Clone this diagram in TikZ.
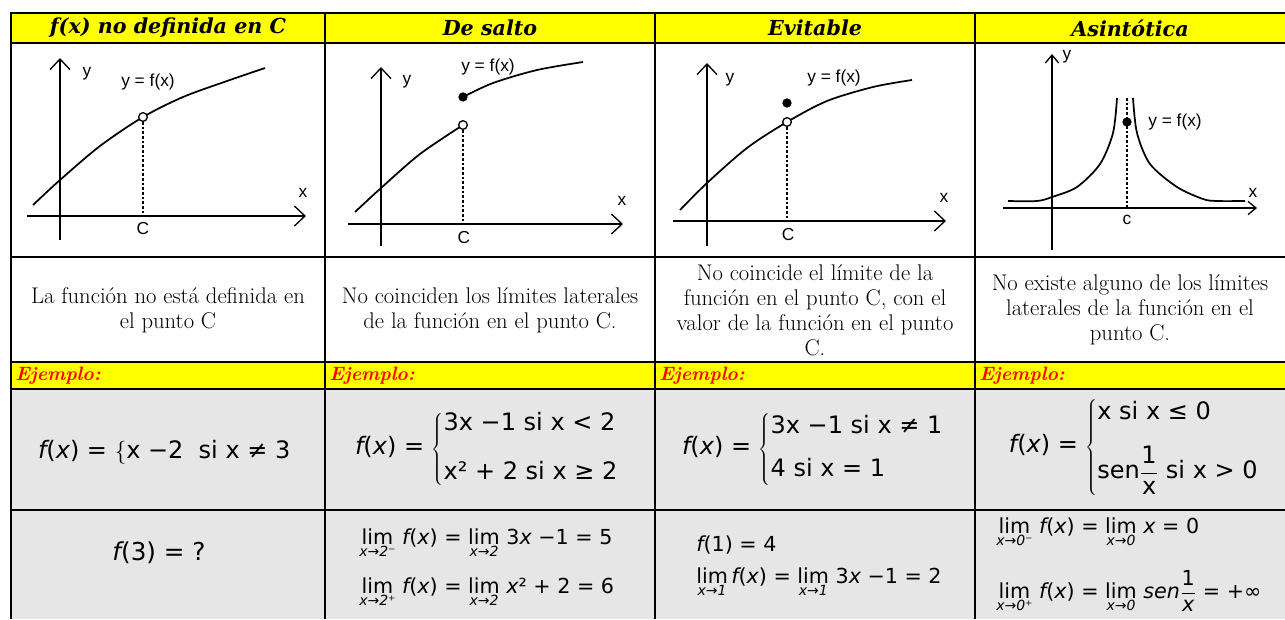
\documentclass[tikz,border=0pt]{standalone}
\usepackage{fontspec}
\usetikzlibrary{arrows.meta}
\newfontfamily\fm{DejaVu Sans}
\newfontfamily\hd{DejaVu Serif}
\newfontfamily\lab{Liberation Sans}
\definecolor{ylw}{RGB}{255,255,0}
\definecolor{gry}{RGB}{230,230,230}
\newcommand{\Lim}[1]{\ensuremath{\mathop{\mbox{lim}}\limits_{\mbox{\fontsize{10.5}{11}\selectfont\itshape #1}}}}
\newcommand{\fr}[2]{\ensuremath{\displaystyle\frac{\mbox{#1}}{\mbox{#2}}}}
\tikzset{
  tbl/.style={line width=1.6pt},
  hdr/.style={inner sep=0pt, font=\hd\bfseries\itshape\fontsize{15.5}{17}\selectfont},
  ej/.style={inner sep=0pt, anchor=west, text=red, font=\bfseries\itshape\fontsize{14.5}{16}\selectfont},
  desc/.style={inner sep=0pt, align=center, font=\fontsize{17}{18.75}\selectfont},
  fml/.style={inner sep=0pt, font=\fm\fontsize{18}{22}\selectfont},
  fml2/.style={inner sep=0pt, font=\fm\fontsize{18.5}{22}\selectfont},
  lmt/.style={inner sep=0pt, anchor=base west, font=\fm\fontsize{15.5}{18}\selectfont},
  gl/.style={inner sep=0pt, font=\lab\fontsize{13}{14}\selectfont},
  ax/.style={line width=0.9pt, -{Straight Barb[length=8pt,width=15pt,line width=1pt]}},
  axs/.style={line width=0.9pt, -{Straight Barb[length=6pt,width=10pt,line width=1pt]}},
  crv/.style={line width=1.3pt},
  dsh/.style={line width=1pt, dash pattern=on 2pt off 1.5pt},
  odot/.style={circle, draw, fill=white, inner sep=0pt, minimum size=6.5pt, line width=1pt},
  fdot/.style={circle, fill=black, inner sep=0pt, minimum size=7pt},
}
\begin{document}
\begin{tikzpicture}[x=0.75pt,y=-0.75pt]
\useasboundingbox (0,0) rectangle (1285,619);
% backgrounds
\fill[ylw] (11,13) rectangle (1285,43);
\fill[ylw] (11,362) rectangle (1285,389);
\fill[gry] (11,389) rectangle (1285,619);
% grid
\foreach \yy in {13,43,257,362,389,510} \draw[tbl] (10.2,\yy) -- (1285,\yy);
\foreach \xx in {11,325,655,975} \draw[tbl] (\xx,12.2) -- (\xx,619);
% headers
\node[hdr] (h1) at (168,28) {f(x) no definida en C};
\node[hdr] (h2) at (490,28) {De salto};
\node[hdr] (h3) at (815,28) {Evitable};
\node[hdr] (h4) at (1130,28) {Asintótica};
% ---------- graph 1
\coordinate (y1b) at (60,240); \coordinate (y1t) at (60,58);
\coordinate (x1l) at (27,216); \coordinate (x1r) at (306,216);
\draw[ax] (y1b) -- (y1t);
\draw[ax] (x1l) -- (x1r);
\draw[crv] plot[smooth] coordinates {(33,205) (60,180) (100,146) (143,117) (183,97) (227,81) (265,68)};
\node[odot] (o1) at (143,117) {};
\coordinate (c1) at (143,216);
\draw[dsh] (o1.south) -- (c1);
\node[gl] (ly1) at (87,74) {y};
\node[gl] (lx1) at (303,193) {x};
\node[gl] (lc1) at (143,229) {C};
\node[gl] (lf1) at (148,82) {y = f(x)};
% ---------- graph 2
\coordinate (y2b) at (381,246); \coordinate (y2t) at (381,67);
\coordinate (x2l) at (348,224); \coordinate (x2r) at (623,224);
\draw[ax] (y2b) -- (y2t);
\draw[ax] (x2l) -- (x2r);
\draw[crv] plot[smooth] coordinates {(355,212) (381,188) (420,154) (463,125)};
\draw[crv] plot[smooth] coordinates {(463,97) (493,83) (537,70) (583,62)};
\node[odot] (o2) at (463,125) {};
\node[fdot] (p2) at (463,97) {};
\coordinate (c2) at (463,224);
\draw[dsh] (o2.south) -- (c2);
\node[gl] (ly2) at (407,82) {y};
\node[gl] (lx2) at (622,201) {x};
\node[gl] (lc2) at (464,238) {C};
\node[gl] (lf2) at (488,67) {y = f(x)};
% ---------- graph 3
\coordinate (y3b) at (707,246); \coordinate (y3t) at (707,63);
\coordinate (x3l) at (673,221); \coordinate (x3r) at (946,221);
\draw[ax] (y3b) -- (y3t);
\draw[ax] (x3l) -- (x3r);
\draw[crv] plot[smooth] coordinates {(680,210) (707,183) (747,148) (787,122) (827,101) (873,87) (912,80)};
\node[odot] (o3) at (787,122) {};
\node[fdot] (p3) at (787,103) {};
\coordinate (c3) at (787,221);
\draw[dsh] (o3.south) -- (c3);
\node[gl] (ly3) at (730,80) {y};
\node[gl] (lx3) at (944,198) {x};
\node[gl] (lc3) at (788,235) {C};
\node[gl] (lf3) at (834,78) {y = f(x)};
% ---------- graph 4
\coordinate (y4b) at (1052,250); \coordinate (y4t) at (1052,54);
\coordinate (x4l) at (1003,208); \coordinate (x4r) at (1257,208);
\draw[axs] (y4b) -- (y4t);
\draw[axs] (x4l) -- (x4r);
\draw[crv] plot[smooth] coordinates {(1008,201) (1037,201) (1052,197) (1077,187) (1100,164) (1113,133) (1117,98)};
\draw[crv] plot[smooth] coordinates {(1133,98) (1137,133) (1150,164) (1177,187) (1203,199) (1217,201) (1245,201)};
\node[fdot] (p4) at (1127,122) {};
\coordinate (t4) at (1127,98);
\coordinate (c4) at (1127,208);
\draw[dsh] (t4) -- (c4);
\node[gl] (ly4) at (1067,57) {y};
\node[gl] (lx4) at (1253,193) {x};
\node[gl] (lc4) at (1127,220) {c};
\node[gl] (lf4) at (1175,122) {y = f(x)};
% descriptions
\node[desc] (d1) at (168,310) {La función no está definida en\\el punto C};
\node[desc] (d2) at (490,310) {No coinciden los límites laterales\\de la función en el punto C.};
\node[desc] (d3) at (815,310) {No coincide el límite de la\\función en el punto C, con el\\valor de la función en el punto\\C.};
\node[desc] (d4) at (1130,310) {No existe alguno de los límites\\laterales de la función en el\\punto C.};
% Ejemplo
\node[ej] (j1) at (15,376) {Ejemplo:};
\node[ej] (j2) at (329,376) {Ejemplo:};
\node[ej] (j3) at (659,376) {Ejemplo:};
\node[ej] (j4) at (979,376) {Ejemplo:};
% formulas
\node[fml] (e1) at (165,452) {{\itshape f}({\itshape x}) = \(\left\{\mbox{x −2\ \ si x ≠ 3}\right.\)};
\node[fml] (e2) at (487,449) {{\itshape f}({\itshape x}) = \(\left\{\begin{tabular}{@{}l@{}}3x −1 si x < 2\\[15pt]x² + 2 si x ≥ 2\end{tabular}\right.\)};
\node[fml] (e3) at (813,449) {{\itshape f}({\itshape x}) = \(\left\{\begin{tabular}{@{}l@{}}3x −1 si x ≠ 1\\[10pt]4 si x = 1\end{tabular}\right.\)};
\node[fml] (e4) at (1134,447) {{\itshape f}({\itshape x}) = \(\left\{\begin{tabular}{@{}l@{}}x si x ≤ 0\\[13pt]sen\fr{1}{x} si x > 0\end{tabular}\right.\)};
% limits
\node[fml2] (r1) at (159,553) {{\itshape f}(3) = ?};
\node[lmt] (r21) at (359,544) {\Lim{x→2⁻} {\itshape f}({\itshape x}) = \Lim{x→2} 3{\itshape x} −1 = 5};
\node[lmt] (r22) at (359,593) {\Lim{x→2⁺} {\itshape f}({\itshape x}) = \Lim{x→2} {\itshape x}² + 2 = 6};
\node[lmt] (r31) at (696,551) {{\itshape f}(1) = 4};
\node[lmt] (r32) at (696,583) {\Lim{x→1}\,{\itshape f}({\itshape x}) = \Lim{x→1} 3{\itshape x} −1 = 2};
\node[lmt] (r41) at (996,533) {\Lim{x→0⁻} {\itshape f}({\itshape x}) = \Lim{x→0} {\itshape x} = 0};
\node[lmt] (r42) at (996,598) {\Lim{x→0⁺} {\itshape f}({\itshape x}) = \Lim{x→0} {\itshape sen}\fr{1}{\itshape x} = +∞};
\end{tikzpicture}
\end{document}
